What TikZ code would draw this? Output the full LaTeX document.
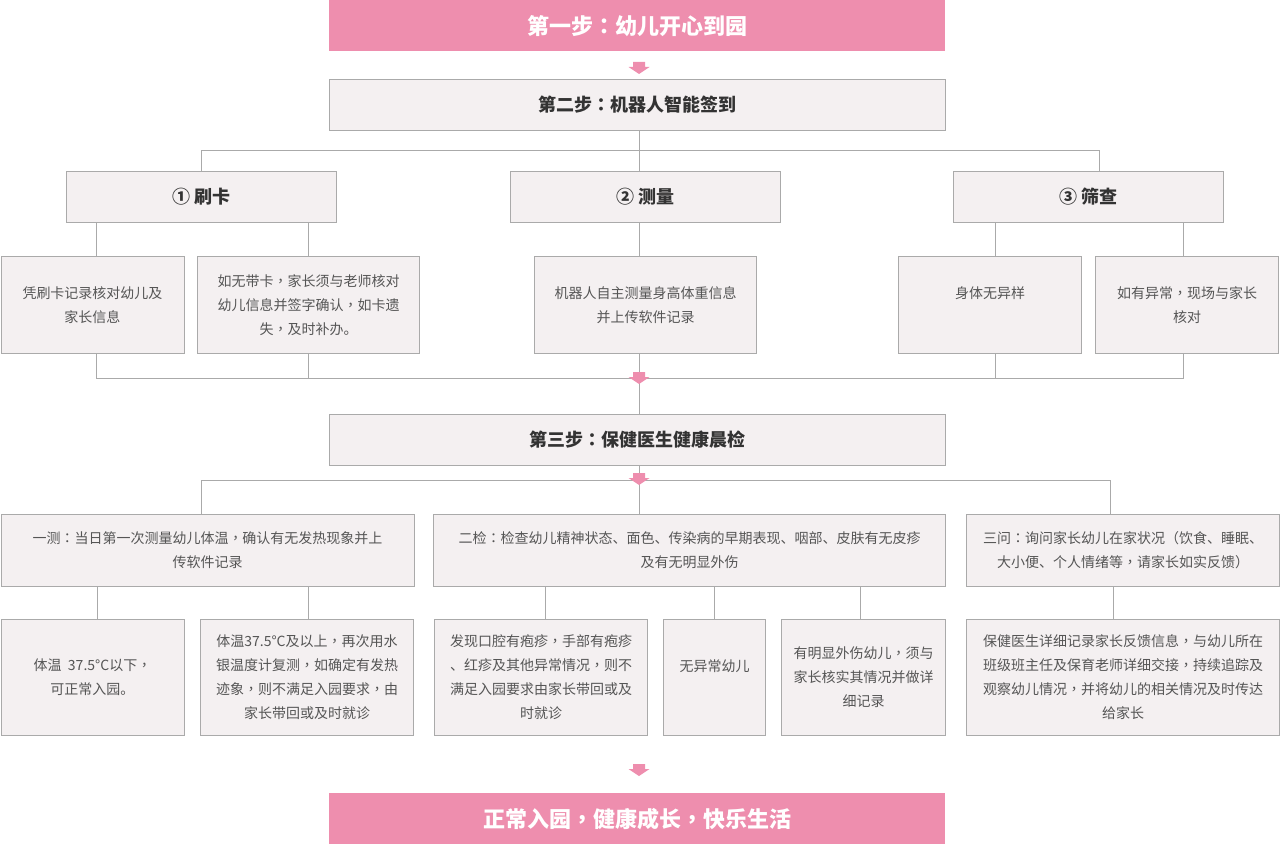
\documentclass[tikz,border=0pt]{standalone}
\usepackage{fontspec}
\setmainfont{Noto Sans CJK SC}
\newfontfamily\tcpunct{Noto Sans CJK TC}
\newcommand\zc{{\tcpunct ，}}
\newcommand\zp{{\tcpunct ：}}
\definecolor{pinkc}{RGB}{238,142,174}
\definecolor{boxf}{RGB}{244,240,241}
\definecolor{lineg}{RGB}{170,170,170}
\definecolor{txtg}{RGB}{85,85,85}
\definecolor{headt}{RGB}{51,51,51}
\begin{document}
\begin{tikzpicture}[x=1pt,y=-1pt,
  box/.style={draw=lineg, fill=boxf, line width=1pt, inner sep=0pt, anchor=north west,
    align=center, text=txtg, font=\fontsize{14}{24}\selectfont},
  head/.style={box, text=headt, font=\fontsize{18}{22}\selectfont\bfseries},
  pinkbox/.style={fill=pinkc, inner sep=0pt, anchor=north west, text=white,
    font=\fontsize{22}{26}\selectfont\bfseries},
  conn/.style={draw=lineg, line width=1pt}]
\useasboundingbox (0,0) rectangle (1280,845);

% step boxes
\node[pinkbox, minimum width=616pt, minimum height=51pt] (t1) at (329,0) {第一步\zp 幼儿开心到园};
\node[head, minimum width=616pt, minimum height=51pt] (s2) at (329,79) {第二步\zp 机器人智能签到};
\node[head, minimum width=270pt, minimum height=51pt] (a1) at (66,171) {① 刷卡};
\node[head, minimum width=270pt, minimum height=51pt] (a2) at (510,171) {② 测量};
\node[head, minimum width=270pt, minimum height=51pt] (a3) at (953,171) {③ 筛查};

\node[box, minimum width=183pt, minimum height=97pt] (b1) at (0.5,256) {凭刷卡记录核对幼儿及\\家长信息};
\node[box, minimum width=222pt, minimum height=97pt] (b2) at (197,256) {如无带卡\zc 家长须与老师核对\\幼儿信息并签字确认\zc 如卡遗\\失\zc 及时补办。};
\node[box, minimum width=222pt, minimum height=97pt] (b3) at (534,256) {机器人自主测量身高体重信息\\并上传软件记录};
\node[box, minimum width=183pt, minimum height=97pt] (b4) at (898,256) {身体无异样\\\mbox{}};
\node[box, minimum width=183pt, minimum height=97pt] (b5) at (1095,256) {如有异常\zc 现场与家长\\核对};

\node[head, minimum width=616pt, minimum height=51pt] (s3) at (329,414) {第三步\zp 保健医生健康晨检};

\node[box, minimum width=413pt, minimum height=72pt] (c1) at (0.5,514) {一测\zp 当日第一次测量幼儿体温\zc 确认有无发热现象并上\\传软件记录};
\node[box, minimum width=512pt, minimum height=72pt] (c2) at (433,514) {二检\zp 检查幼儿精神状态、面色、传染病的早期表现、咽部、皮肤有无皮疹\\及有无明显外伤};
\node[box, minimum width=313pt, minimum height=72pt] (c3) at (966,514) {三问\zp 询问家长幼儿在家状况（饮食、睡眠、\\大小便、个人情绪等\zc 请家长如实反馈）};

\node[box, minimum width=183pt, minimum height=116pt] (d1) at (0.5,619) {体温~~37.5°C以下\zc\\可正常入园。};
\node[box, minimum width=213pt, minimum height=116pt] (d2) at (200,619) {体温37.5°C及以上\zc 再次用水\\银温度计复测\zc 如确定有发热\\迹象\zc 则不满足入园要求\zc 由\\家长带回或及时就诊};
\node[box, minimum width=213pt, minimum height=116pt] (e1) at (434,619) {发现口腔有疱疹\zc 手部有疱疹\\、红疹及其他异常情况\zc 则不\\满足入园要求由家长带回或及\\时就诊};
\node[box, minimum width=102pt, minimum height=116pt] (e2) at (663,619) {无异常幼儿\\\mbox{}};
\node[box, minimum width=164pt, minimum height=116pt] (e3) at (781,619) {有明显外伤幼儿\zc 须与\\家长核实其情况并做详\\细记录};
\node[box, minimum width=313pt, minimum height=116pt] (f1) at (966,619) {保健医生详细记录家长反馈信息\zc 与幼儿所在\\班级班主任及保育老师详细交接\zc 持续追踪及\\观察幼儿情况\zc 并将幼儿的相关情况及时传达\\给家长};

\node[pinkbox, minimum width=616pt, minimum height=51pt] (t2) at (329,793) {正常入园\zc 健康成长\zc 快乐生活};

% junction coordinates
\coordinate (k1L) at (201,151); \coordinate (k1C) at (639,151); \coordinate (k1R) at (1099,151);
\coordinate (x96) at (96,378); \coordinate (x308) at (308,378); \coordinate (x639) at (639,378);
\coordinate (x995) at (995,378); \coordinate (x1183) at (1183,378);
\coordinate (m1L) at (201,480); \coordinate (m1C) at (639,480); \coordinate (m1R) at (1110,480);
\coordinate (q1) at (97,600); \coordinate (q2) at (308,600); \coordinate (q3) at (545,600);
\coordinate (q4) at (714,600); \coordinate (q5) at (860,600); \coordinate (q6) at (1113,600);

% connectors step 2
\draw[conn] (s2.south -| k1C) -- (a2.north -| k1C);
\draw[conn] (a1.north -| k1L) -- (k1L) -- (k1R) -- (a3.north -| k1R);
\draw[conn] (a1.south -| x96) -- (b1.north -| x96);
\draw[conn] (a1.south -| x308) -- (b2.north -| x308);
\draw[conn] (a2.south -| x639) -- (b3.north -| x639);
\draw[conn] (a3.south -| x995) -- (b4.north -| x995);
\draw[conn] (a3.south -| x1183) -- (b5.north -| x1183);
\draw[conn] (b1.south -| x96) -- (x96) -- (x1183) -- (b5.south -| x1183);
\draw[conn] (b2.south -| x308) -- (x308);
\draw[conn] (b4.south -| x995) -- (x995);
\draw[conn] (b3.south -| x639) -- (s3.north -| x639);

% connectors step 3
\draw[conn] (s3.south -| m1C) -- (c2.north -| m1C);
\draw[conn] (c1.north -| m1L) -- (m1L) -- (m1R) -- (c3.north -| m1R);
\draw[conn] (c1.south -| q1) -- (d1.north -| q1);
\draw[conn] (c1.south -| q2) -- (d2.north -| q2);
\draw[conn] (c2.south -| q3) -- (e1.north -| q3);
\draw[conn] (c2.south -| q4) -- (e2.north -| q4);
\draw[conn] (c2.south -| q5) -- (e3.north -| q5);
\draw[conn] (c3.south -| q6) -- (f1.north -| q6);

% pink down arrows
\foreach \t in {62,372,473,764}
  \fill[pinkc] (633,\t) -- (645,\t) -- (645,{\t+5}) -- (649.5,{\t+5}) -- (639,{\t+12})
    -- (628.5,{\t+5}) -- (633,{\t+5}) -- cycle;
\end{tikzpicture}
\end{document}
